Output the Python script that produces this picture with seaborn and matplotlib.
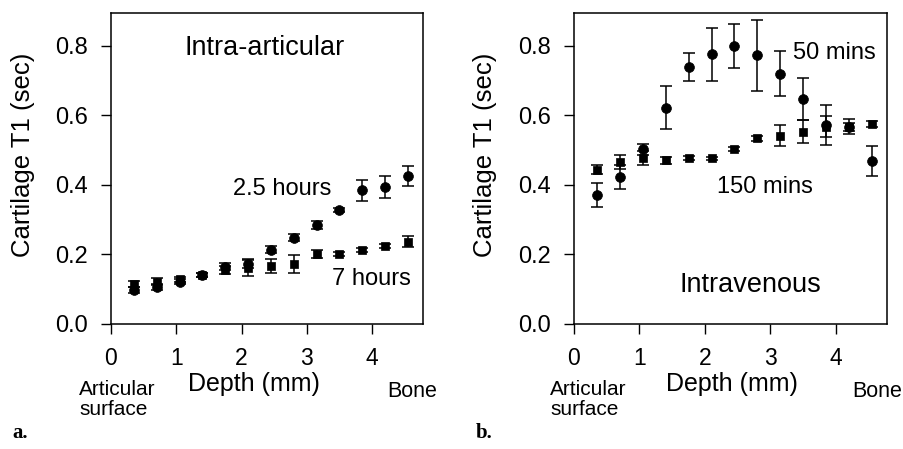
import numpy as np
import pandas as pd
import matplotlib
matplotlib.use("Agg")
import matplotlib.pyplot as plt
import seaborn as sns

# ---- data ----
depth = [0.35, 0.70, 1.05, 1.40, 1.75, 2.10, 2.45, 2.80, 3.15, 3.50, 3.85, 4.20, 4.55]

ia_25h = [0.097, 0.107, 0.122, 0.140, 0.165, 0.172, 0.214, 0.248, 0.284, 0.328, 0.385, 0.394, 0.425]
ia_25h_err = [0.008, 0.008, 0.008, 0.006, 0.010, 0.012, 0.010, 0.010, 0.012, 0.006, 0.030, 0.032, 0.028]
ia_7h = [0.115, 0.122, 0.128, 0.140, 0.155, 0.162, 0.167, 0.172, 0.201, 0.201, 0.213, 0.224, 0.237]
ia_7h_err = [0.010, 0.010, 0.008, 0.006, 0.012, 0.025, 0.020, 0.026, 0.012, 0.006, 0.006, 0.006, 0.015]

iv_50m = [0.371, 0.423, 0.502, 0.622, 0.739, 0.775, 0.799, 0.773, 0.720, 0.646, 0.572, 0.567, 0.468]
iv_50m_err = [0.035, 0.034, 0.015, 0.062, 0.040, 0.077, 0.063, 0.102, 0.065, 0.060, 0.057, 0.022, 0.043]
iv_150m = [0.444, 0.467, 0.478, 0.471, 0.478, 0.476, 0.502, 0.534, 0.541, 0.553, 0.567, 0.567, 0.575]
iv_150m_err = [0.012, 0.020, 0.020, 0.010, 0.006, 0.005, 0.006, 0.007, 0.030, 0.033, 0.030, 0.012, 0.008]

y_ticks = [0.0, 0.2, 0.4, 0.6, 0.8]
x_ticks = [0, 1, 2, 3, 4]

sns.set_theme(style="ticks")
plt.rcParams["font.family"] = ["Liberation Sans", "DejaVu Sans"]
plt.rcParams["text.color"] = "black"
plt.rcParams["axes.labelcolor"] = "black"
plt.rcParams["xtick.color"] = "black"
plt.rcParams["ytick.color"] = "black"

W, H = 904, 449
fig = plt.figure(figsize=(W / 100, H / 100), dpi=100)

def frac(x0, y_top, w, h):
    return [x0 / W, 1 - (y_top + h) / H, w / W, h / H]

axA = fig.add_axes(frac(111, 13, 312, 311))
axB = fig.add_axes(frac(574, 13, 313, 311))

def panel(ax, s1, e1, s2, e2, lbl1, lbl2):
    df = pd.DataFrame({
        "depth": depth * 2,
        "t1": s1 + s2,
        "err": e1 + e2,
        "series": [lbl1] * len(depth) + [lbl2] * len(depth),
    })
    for name, mk, ms in [(lbl1, "o", 50), (lbl2, "s", 36)]:
        sub = df[df["series"] == name]
        ax.errorbar(sub["depth"], sub["t1"], yerr=sub["err"], fmt="none",
                    ecolor="black", elinewidth=1.1, capsize=4, capthick=1.1, zorder=2)
        sns.scatterplot(data=sub, x="depth", y="t1", marker=mk, s=ms, color="black",
                        edgecolor="black", linewidth=0.5, ax=ax, zorder=3, legend=False)
    ax.set_xlim(0, 4.78)
    ax.set_ylim(0, 0.894)
    ax.set_xticks(x_ticks)
    ax.set_yticks(y_ticks)
    ax.set_xticklabels([str(t) for t in x_ticks], fontsize=16.5)
    ax.set_yticklabels([f"{t:.1f}" for t in y_ticks], fontsize=17)
    ax.tick_params(direction="out", length=7.5, width=1.0, color="black", labelcolor="black")
    ax.tick_params(axis="y", pad=9)
    ax.tick_params(axis="x", pad=9)
    for sp in ax.spines.values():
        sp.set_visible(True)
        sp.set_linewidth(1.1)
        sp.set_color("black")
    ax.set_facecolor("white")
    ax.set_ylabel("Cartilage T1 (sec)", fontsize=18.5)
    ax.set_xlabel("Depth (mm)", fontsize=18)

panel(axA, ia_25h, ia_25h_err, ia_7h, ia_7h_err, "2.5 hours", "7 hours")
panel(axB, iv_50m, iv_50m_err, iv_150m, iv_150m_err, "50 mins", "150 mins")

axA.yaxis.set_label_coords(-0.245, 0.543)
axB.yaxis.set_label_coords(-0.246, 0.543)
axA.xaxis.set_label_coords(0.458, -0.155)
axB.xaxis.set_label_coords(0.505, -0.155)

# annotations inside panels
axA.text(2.36, 0.773, "Intra-articular", fontsize=19.5, ha="center", va="baseline")
axA.text(2.62, 0.371, "2.5 hours", fontsize=17, ha="center", va="baseline")
axA.text(3.99, 0.112, "7 hours", fontsize=17, ha="center", va="baseline")
axB.text(3.98, 0.763, "50 mins", fontsize=17, ha="center", va="baseline")
axB.text(2.92, 0.376, "150 mins", fontsize=17, ha="center", va="baseline")
axB.text(2.70, 0.093, "Intravenous", fontsize=19.5, ha="center", va="baseline")

# axis end annotations
for ax, x_art, x_bone in [(axA, 79, 412), (axB, 550, 877)]:
    fig.text(x_art / W, 1 - 415 / H, "Articular\nsurface", fontsize=15,
             ha="left", va="baseline", linespacing=1.05)
    fig.text(x_bone / W, 1 - 397 / H, "Bone", fontsize=15.5, ha="center", va="baseline")

fig.text(12 / W, 1 - 438 / H, "a.", fontsize=15, fontweight="bold",
         family=["Liberation Serif", "DejaVu Serif"], ha="left", va="baseline")
fig.text(476 / W, 1 - 438 / H, "b.", fontsize=15, fontweight="bold",
         family=["Liberation Serif", "DejaVu Serif"], ha="left", va="baseline")

fig.savefig("out.png", dpi=100, facecolor="white")
